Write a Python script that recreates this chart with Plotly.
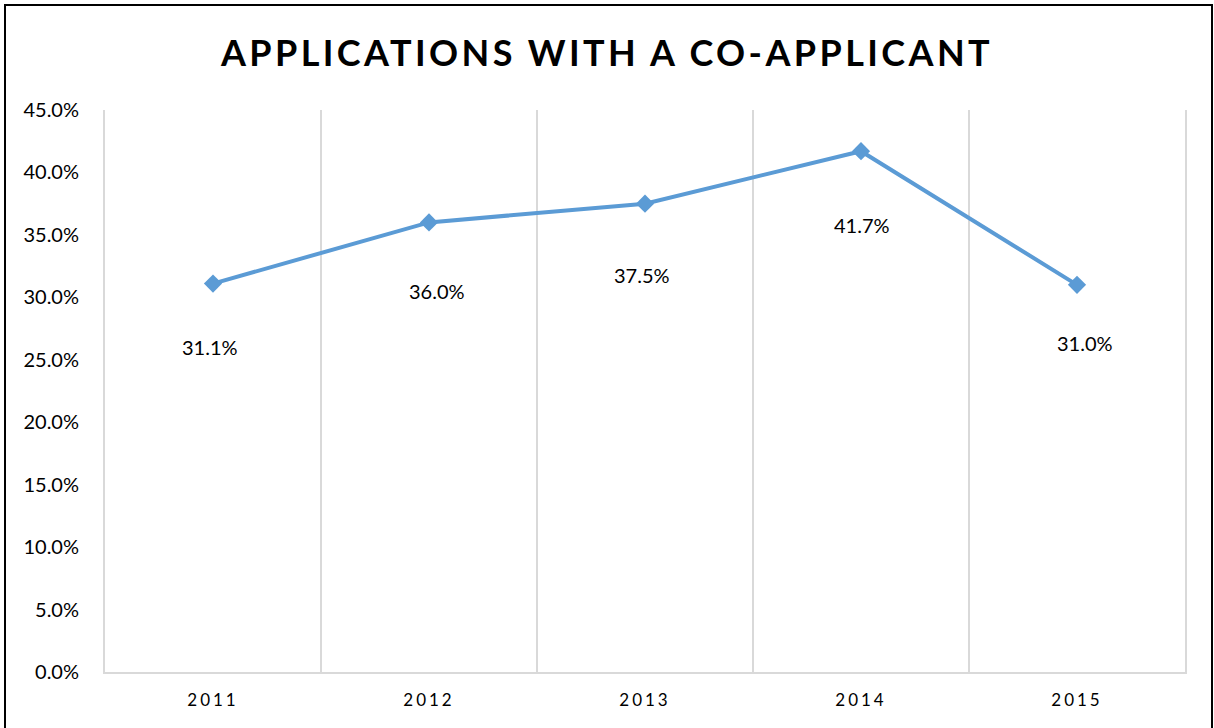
import plotly.graph_objects as go

# Data
years = ["2011", "2012", "2013", "2014", "2015"]
share = [31.1, 36.0, 37.5, 41.7, 31.0]
label_text = ["31.1%", "36.0%", "37.5%", "41.7%", "31.0%"]
y_ticks = [0, 5, 10, 15, 20, 25, 30, 35, 40, 45]
y_tick_labels = ["0.0%", "5.0%", "10.0%", "15.0%", "20.0%", "25.0%", "30.0%", "35.0%", "40.0%", "45.0%"]

# label offsets (pixels) as placed in the original
label_dx = [-3, 8, -3, 1, 8]
label_dy = [-63, -69, -71, -74, -58]

W, H = 1214, 728
ML, MR, MT, MB = 105, 29, 110, 56
FONT = "Lato"
BLUE = "#5B9BD5"

fig = go.Figure()
fig.add_trace(go.Scatter(
    x=years, y=share, mode="lines+markers",
    line=dict(color=BLUE, width=4),
    marker=dict(symbol="diamond", size=14, color=BLUE),
    hoverinfo="skip", showlegend=False,
))

for i, (y, t, dx, dy) in enumerate(zip(share, label_text, label_dx, label_dy)):
    fig.add_annotation(x=i, y=y, xref="x", yref="y", text=t, showarrow=False,
                       xshift=dx, yshift=dy,
                       font=dict(family=FONT, size=20, color="#000000"))

pw = W - ML - MR
ph = H - MT - MB
# outer chart border
fig.add_shape(type="rect", xref="paper", yref="paper",
              x0=(5 - ML) / pw, x1=(1212 - ML) / pw,
              y0=(H - 735 - MB) / ph, y1=(H - 5 - MB) / ph,
              line=dict(color="#000000", width=2), layer="above")

fig.update_layout(
    width=W, height=H,
    margin=dict(l=ML, r=MR, t=MT, b=MB),
    paper_bgcolor="white", plot_bgcolor="white",
    title=dict(text="APPLICATIONS WITH A CO-APPLICANT",
               x=0.5, xref="container", xanchor="center",
               y=1 - 53 / H, yref="container", yanchor="middle",
               font=dict(family=FONT, size=36, color="#000000", weight="bold")),
    xaxis=dict(type="category", range=[-0.5, 4.5], tickson="boundaries",
               showgrid=True, gridcolor="#d9d9d9", gridwidth=2,
               showline=True, linecolor="#d9d9d9", linewidth=2,
               ticks="", zeroline=False, ticklabelstandoff=12,
               tickfont=dict(family=FONT, size=17, color="#000000")),
    yaxis=dict(range=[0, 45], tickvals=y_ticks, ticktext=y_tick_labels,
               showgrid=False, zeroline=False,
               showline=True, mirror=True, linecolor="#d9d9d9", linewidth=2,
               ticks="", ticklabelstandoff=20,
               tickfont=dict(family=FONT, size=20, color="#000000")),
)

post = """
document.body.style.margin='0';
var gd = document.getElementById('{plot_id}');
gd.querySelectorAll('.gtitle').forEach(function(e){ e.style.letterSpacing='3.4px'; });
gd.querySelectorAll('.xtick text').forEach(function(e){ e.style.letterSpacing='3px'; });
"""
fig.write_html("out.html", post_script=post, config={"displayModeBar": False})
